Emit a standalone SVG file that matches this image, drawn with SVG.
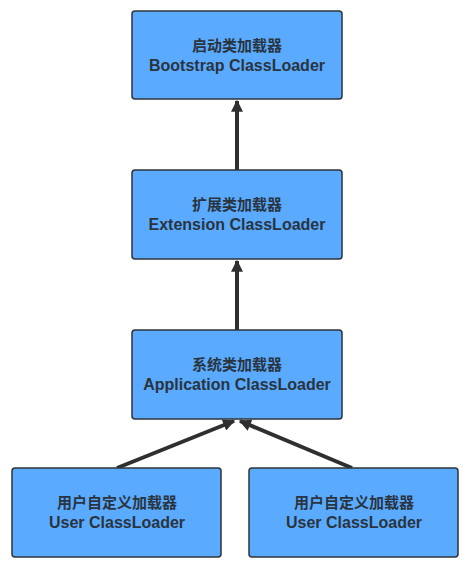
<svg xmlns="http://www.w3.org/2000/svg" width="476" height="579" viewBox="0 0 476 579">
<style>
.box{fill:#5aabff;stroke:#2f3338;stroke-width:1.5}
text{font-weight:bold;fill:#2a3440;text-anchor:middle}
.zh{font-family:"Noto Sans CJK SC",sans-serif;font-size:15px}
.en{font-family:"Liberation Sans",Arial,sans-serif;font-size:16px}
.edge{stroke:#2f2f2f;stroke-width:4;fill:none}
</style>
<defs>
<marker id="ah" viewBox="0 0 10 10" refX="9" refY="5" markerWidth="3.5" markerHeight="3" orient="auto" markerUnits="strokeWidth">
<path d="M0,0 L10,5 L0,10 z" fill="#2f2f2f"/>
</marker>
</defs>
<g id="edges">
<line class="edge" x1="237" y1="170" x2="237" y2="101" marker-end="url(#ah)"/>
<line class="edge" x1="237" y1="330" x2="237" y2="261" marker-end="url(#ah)"/>
<line class="edge" x1="117" y1="468" x2="234" y2="421" marker-end="url(#ah)"/>
<line class="edge" x1="352" y1="468" x2="240" y2="421" marker-end="url(#ah)"/>
</g>
<g id="bootstrap">
<rect class="box" x="132" y="11" width="210" height="88" rx="3"/>
<text class="zh" x="237" y="51">启动类加载器</text>
<text class="en" x="237" y="71">Bootstrap ClassLoader</text>
</g>
<g id="extension">
<rect class="box" x="132" y="170" width="210" height="89" rx="3"/>
<text class="zh" x="237" y="210">扩展类加载器</text>
<text class="en" x="237" y="230">Extension ClassLoader</text>
</g>
<g id="application">
<rect class="box" x="132" y="330" width="210" height="89" rx="3"/>
<text class="zh" x="237" y="370">系统类加载器</text>
<text class="en" x="237" y="390">Application ClassLoader</text>
</g>
<g id="user1">
<rect class="box" x="12" y="468" width="209" height="89" rx="3"/>
<text class="zh" x="117" y="508">用户自定义加载器</text>
<text class="en" x="117" y="528">User ClassLoader</text>
</g>
<g id="user2">
<rect class="box" x="249" y="468" width="209" height="89" rx="3"/>
<text class="zh" x="354" y="508">用户自定义加载器</text>
<text class="en" x="354" y="528">User ClassLoader</text>
</g>
</svg>
